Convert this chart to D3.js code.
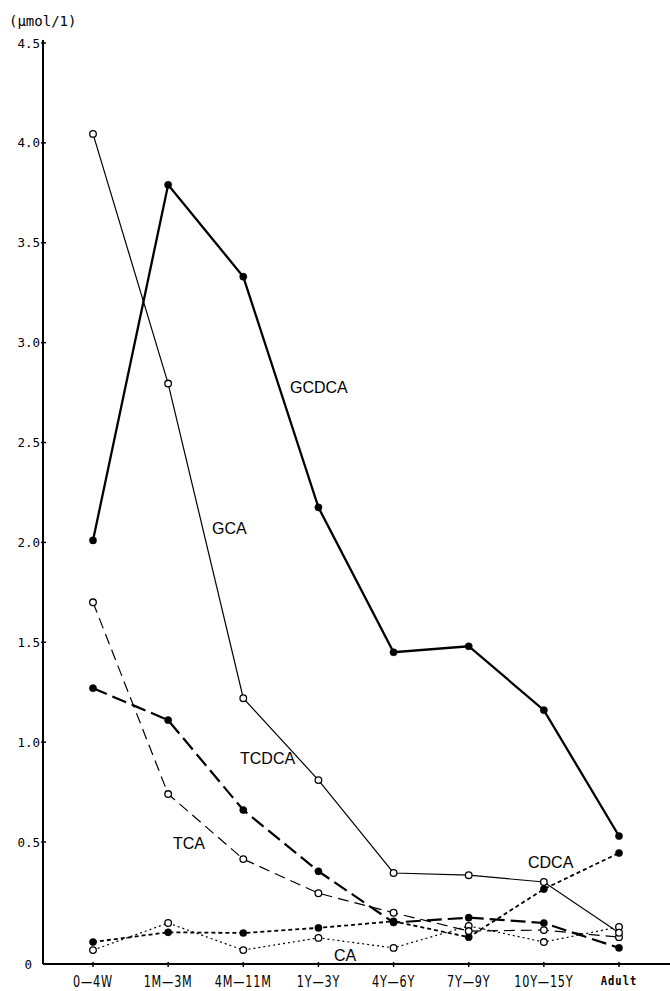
<!DOCTYPE html>
<html><head><meta charset="utf-8">
<script src="https://cdn.jsdelivr.net/npm/d3@7"></script>
<style>body{margin:0;background:#fff}svg{display:block}</style>
</head><body>
<svg id="c" width="670" height="991"></svg>
<script>
const categories = ["0\u20144W","1M\u20143M","4M\u201411M","1Y\u20143Y","4Y\u20146Y","7Y\u20149Y","10Y\u201415Y","Adult"];
const GCDCA = [2.01, 3.79, 3.33, 2.175, 1.45, 1.48, 1.16, 0.53];
const GCA   = [4.045, 2.795, 1.22, 0.81, 0.373, 0.364, 0.336, 0.128];
const TCDCA = [1.27, 1.11, 0.66, 0.38, 0.17, 0.19, 0.168, 0.066];
const TCA   = [1.70, 0.74, 0.43, 0.29, 0.21, 0.135, 0.139, 0.11];
const CDCA  = [0.09, 0.13, 0.127, 0.148, 0.175, 0.11, 0.307, 0.455];
const CA    = [0.057, 0.168, 0.057, 0.107, 0.066, 0.156, 0.09, 0.152];
const yTicks = [0, 0.5, 1.0, 1.5, 2.0, 2.5, 3.0, 3.5, 4.0, 4.5];
const yTickLabels = ["0","0.5","1.0","1.5","2.0","2.5","3.0","3.5","4.0","4.5"];
const unitLabel = "(\u00b5mol/1)";

const svg = d3.select("#c");
const x = d3.scalePoint().domain(categories).range([93, 619]);
const y = d3.scaleLinear().domain([0, 0.5, 4.5]).range([964, 842, 43]);

// axes
const axisX0 = 43;
svg.append("line").attr("x1", axisX0).attr("x2", axisX0).attr("y1", y(4.5)-3).attr("y2", y(0))
  .attr("stroke","#000").attr("stroke-width",2);
svg.append("line").attr("x1", axisX0).attr("x2", 670).attr("y1", y(0)).attr("y2", y(0))
  .attr("stroke","#000").attr("stroke-width",2);

const gy = svg.append("g").attr("transform",`translate(${axisX0},0)`)
  .call(d3.axisLeft(y).tickValues(yTicks).tickSize(0).tickFormat((d,i)=>yTickLabels[i]));
gy.select(".domain").remove();
gy.selectAll("text").attr("font-family","'DejaVu Sans Mono', monospace").attr("font-size",12.5)
  .attr("fill","#000").attr("x", d => d===0 ? -11 : -3).attr("dy", "0.32em");
// y tick marks
svg.selectAll(".ytk").data(yTicks.filter(d=>d>0)).enter().append("line")
  .attr("x1", axisX0-2).attr("x2", axisX0+3).attr("y1", d=>y(d)).attr("y2", d=>y(d))
  .attr("stroke","#000").attr("stroke-width",1.5);

// x axis labels (tall narrow typewriter look)
const gx = svg.append("g");
gx.selectAll("text").data(categories).enter().append("text")
  .attr("transform", d => `translate(${x(d)},${d==="Adult" ? 985 : 987}) scale(1,${d==="Adult" ? 1.1 : 1.3})`)
  .attr("text-anchor","middle")
  .attr("font-family", d => d==="Adult" ? "'DejaVu Sans Mono', monospace" : "'DejaVu Sans Condensed','Liberation Sans Narrow', sans-serif")
  .attr("font-size", d => d==="Adult" ? 10.5 : 12.5)
  .attr("font-weight", d => d==="Adult" ? "bold" : null)
  .attr("letter-spacing", d => d==="Adult" ? 1 : 0.8)
  .attr("fill","#000")
  .text(d=>d);
// x tick marks
svg.selectAll(".xtk").data(categories).enter().append("line")
  .attr("x1", d=>x(d)).attr("x2", d=>x(d)).attr("y1", y(0)-2).attr("y2", y(0)+3)
  .attr("stroke","#000").attr("stroke-width",1.5);

svg.append("text").attr("x",9).attr("y",26).text(unitLabel)
  .attr("font-family","'DejaVu Sans Mono', monospace").attr("font-size",14).attr("fill","#000");

const series = [
  {name:"CA", vals:CA, w:1.2, dash:"2,3", filled:false},
  {name:"CDCA", vals:CDCA, w:1.8, dash:"4,3", filled:true},
  {name:"TCA", vals:TCA, w:1.2, dash:"11,6", filled:false},
  {name:"TCDCA", vals:TCDCA, w:2.2, dash:"15,6", filled:true},
  {name:"GCA", vals:GCA, w:1.2, dash:null, filled:false},
  {name:"GCDCA", vals:GCDCA, w:2.3, dash:null, filled:true}
];
const line = d3.line().x((d,i)=>x(categories[i])).y(d=>y(d));
series.forEach(s=>{
  svg.append("path").datum(s.vals).attr("d", line).attr("fill","none")
    .attr("stroke","#000").attr("stroke-width", s.w)
    .attr("stroke-dasharray", s.dash);
});
series.forEach(s=>{
  svg.selectAll(null).data(s.vals).enter().append("circle")
    .attr("cx",(d,i)=>x(categories[i])).attr("cy", d=>y(d))
    .attr("r", s.filled ? 3.6 : 3.3)
    .attr("fill", s.filled ? "#000" : "#fff")
    .attr("stroke","#000").attr("stroke-width", s.filled ? 0.5 : 1.3);
});

const labels = [
  {t:"GCDCA", x:290, y:393},
  {t:"GCA", x:212, y:534},
  {t:"TCDCA", x:240, y:764},
  {t:"TCA", x:173, y:849},
  {t:"CDCA", x:528, y:868},
  {t:"CA", x:334, y:961}
];
svg.selectAll(".lbl").data(labels).enter().append("text")
  .attr("x",d=>d.x).attr("y",d=>d.y).text(d=>d.t)
  .attr("font-family","'Liberation Sans', Arial, sans-serif").attr("font-size",16).attr("fill","#000");
</script>
</body></html>
